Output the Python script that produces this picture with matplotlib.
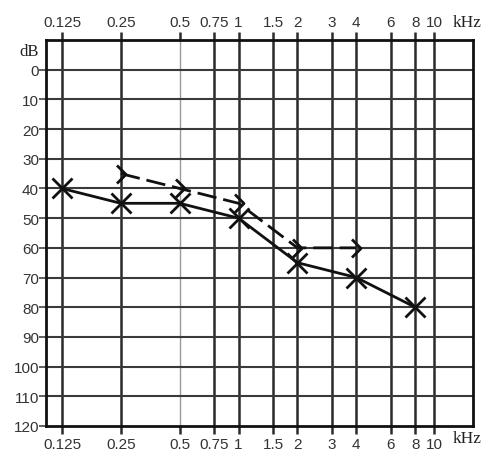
import matplotlib
matplotlib.use("Agg")
import matplotlib.pyplot as plt
from matplotlib.path import Path
from matplotlib.ticker import FixedLocator, NullLocator

freq_ticks = [0.125, 0.25, 0.5, 0.75, 1, 1.5, 2, 3, 4, 6, 8, 10]
freq_labels = ["0.125", "0.25", "0.5", "0.75", "1", "1.5", "2", "3", "4", "6", "8", "10"]
db_ticks = list(range(0, 121, 10))

air_freq = [0.125, 0.25, 0.5, 1, 2, 4, 8]
air_db = [40, 45, 45, 50, 65, 70, 80]

bone_freq = [0.25, 0.5, 1, 2, 4]
bone_db = [35, 40, 45, 60, 60]

fig = plt.figure(figsize=(4.91, 4.56), dpi=100)
ax = fig.add_axes([46/491, 1-427/456, (473-46)/491, (427-41)/456])
ax.set_xscale("log")
ax.set_xlim(0.1036, 15.8)
ax.set_ylim(120, -10)

# grid
for f in freq_ticks:
    if f == 0.5:
        ax.axvline(f, color="#9a9a9a", lw=1.0, zorder=1)
    else:
        ax.axvline(f, color="#2a2a2a", lw=1.8, zorder=1)
for d in db_ticks[:-1]:
    ax.axhline(d, color="#3a3a3a", lw=1.5, zorder=1)

ax.xaxis.set_major_locator(FixedLocator(freq_ticks))
ax.xaxis.set_minor_locator(NullLocator())
ax.set_xticklabels(freq_labels)
ax.yaxis.set_major_locator(FixedLocator(db_ticks))
ax.set_yticklabels([str(d) for d in db_ticks])
ax.tick_params(axis="x", which="major", top=True, bottom=True, labeltop=True,
               labelbottom=True, direction="out", length=6, width=1.8,
               color="#2a2a2a", pad=2, labelsize=11, labelcolor="#333333")
ax.tick_params(axis="y", which="major", left=True, direction="out", length=5,
               width=1.2, color="#444444", pad=0, labelsize=11, labelcolor="#333333")
for lbl in ax.get_xticklabels() + ax.get_yticklabels():
    lbl.set_fontfamily("Liberation Sans")
for sp in ax.spines.values():
    sp.set_linewidth(2)
    sp.set_color("#111111")

# air conduction
ax.plot(air_freq, air_db, color="#111111", lw=2, marker="x", markersize=15,
        markeredgewidth=2, zorder=4)

# bone conduction
gt = Path([(-0.5, 1), (0.5, 0), (-0.5, -1)], [Path.MOVETO, Path.LINETO, Path.LINETO])
ax.plot(bone_freq, bone_db, color="#111111", lw=2, linestyle=(0, (7, 2.5)),
        marker=gt, markersize=13, markerfacecolor="none", markeredgewidth=2, zorder=3)

fig.text(467/491, 1-23/456, "kHz", ha="center", va="center", fontsize=12.5,
         family="Liberation Serif", color="#222222")
fig.text(467/491, 1-439/456, "kHz", ha="center", va="center", fontsize=12.5,
         family="Liberation Serif", color="#222222")
fig.text(29/491, 1-52/456, "dB", ha="center", va="center", fontsize=12,
         family="Liberation Serif", color="#222222")

fig.savefig("out.png", dpi=100)
